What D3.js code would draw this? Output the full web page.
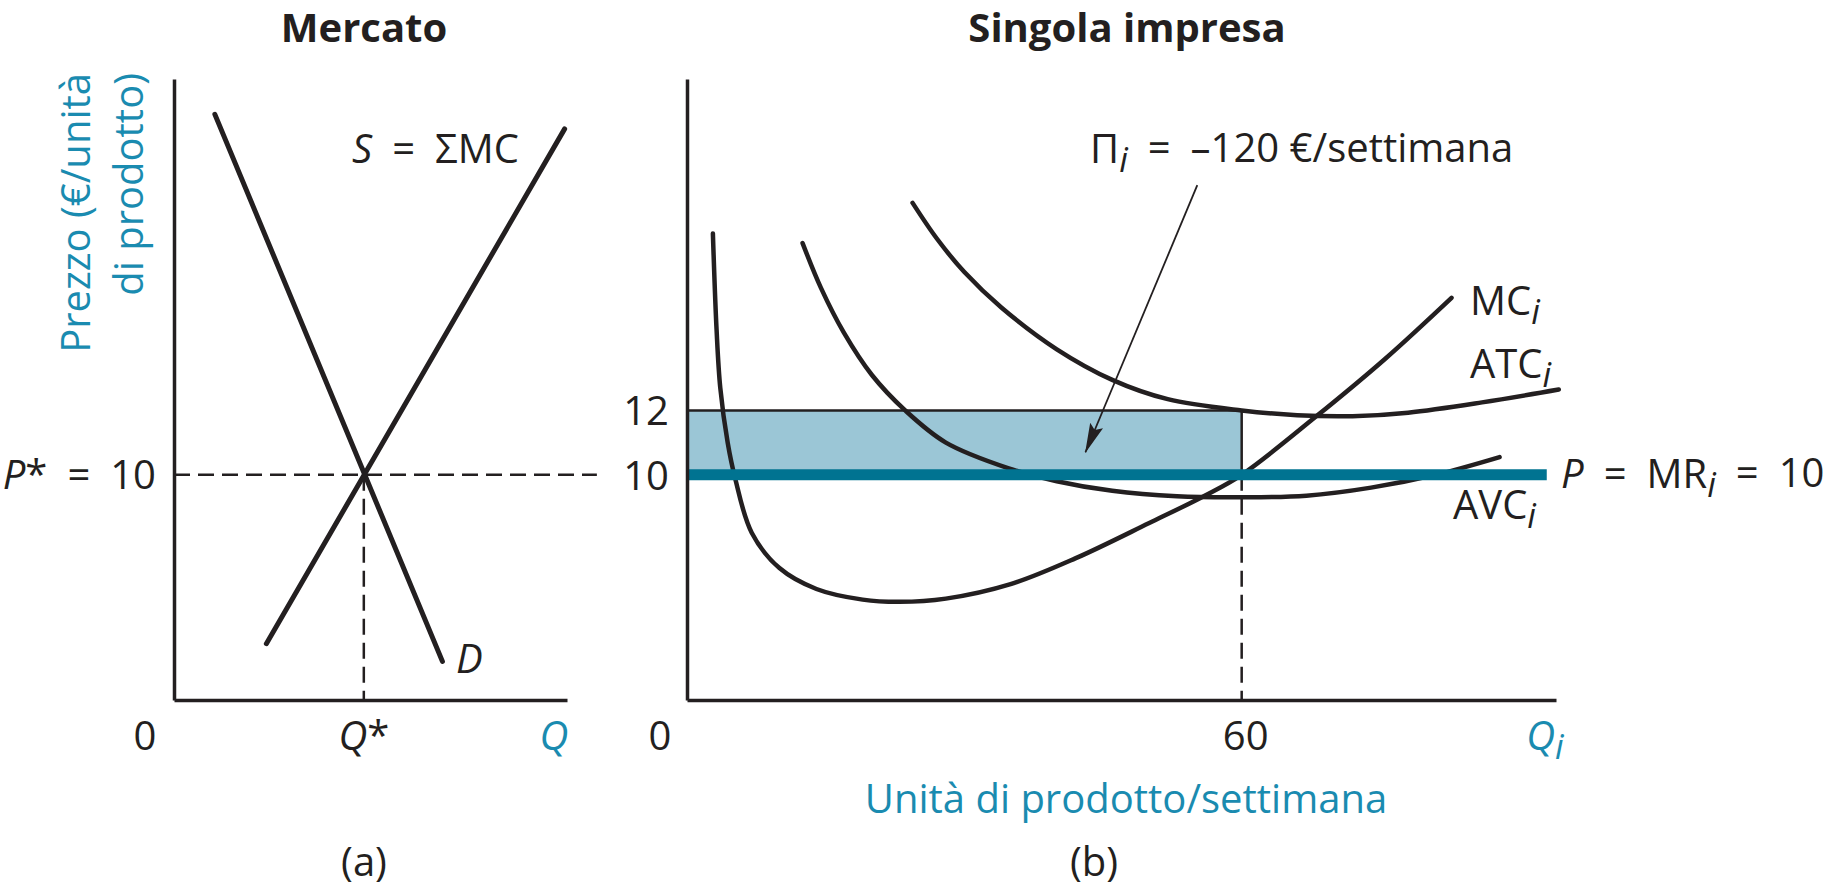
<!DOCTYPE html>
<html>
<head>
<meta charset="utf-8">
<script src="https://cdn.jsdelivr.net/npm/d3@7"></script>
<style>
  body { margin: 0; background: #fff; }
  svg text { font-family: "Open Sans", Lato, sans-serif; fill: #231f20; }
</style>
</head>
<body>
<svg id="chart"></svg>
<script>
// values (price in euro, quantities in arbitrary units)
const priceDomain = [3, 22.3];
const marketQDomain = [0, 100];
const firmQDomain = [0, 94];

// (a) market
const eqPrice = 10;
const eqMarketQ = 48.3;
const demandLine = [[10.4, 21.2], [68.3, 4.2]];
const supplyLine = [[23.5, 4.75], [99.4, 20.75]];
const marketGuideEnd = 107.6;

// (b) single firm
const firmQ = 60;
const firmATC = 12;
const firmPriceTicks = [10, 12];
const mcCurve = [
  [2.8, 17.5], [3.2, 14.5], [3.6, 12.7], [4.4, 11.0], [5.2, 9.9], [7.0, 8.2],
  [10, 7.1], [14, 6.45], [19, 6.12], [23, 6.05], [28, 6.15], [35, 6.6],
  [42, 7.4], [50, 8.5], [56, 9.35], [60, 10], [68, 11.8], [75.5, 13.6], [82.7, 15.5]
];
const atcCurve = [
  [24.4, 18.45], [27, 17.35], [30, 16.3], [34, 15.2], [40, 13.9], [46, 12.95],
  [52, 12.35], [60, 12.0], [66, 11.85], [72, 11.82], [78, 11.93], [86, 12.25], [94.3, 12.65]
];
const avcCurve = [
  [12.5, 17.2], [14.5, 15.8], [17, 14.4], [20, 13.1], [23.6, 12.0], [28, 11.0],
  [34.8, 10.2], [40, 9.8], [46, 9.5], [53, 9.33], [60, 9.3], [67, 9.35],
  [74, 9.6], [81, 10.0], [87.9, 10.55]
];
const mrEnd = 93;
const lossArrow = [[55.2, 19.0], [43.1, 10.7]];

const teal = '#1a8bb0';
const mrColor = '#007391';
const lossFill = '#9bc6d6';
const ink = '#231f20';
const fs = 40;
const eq = '\u2002=\u2002'; // the book sets "=" with wide spaces

const svg = d3.select('#chart')
    .attr('width', 1841)
    .attr('height', 890);

const yPrice = d3.scaleLinear().domain(priceDomain).range([700, 79]);
const xMarket = d3.scaleLinear().domain(marketQDomain).range([174, 567]);
const xFirm = d3.scaleLinear().domain(firmQDomain).range([687, 1556]);

// writes a label made of parts: [text, 'it' | 'sub' | '']
function label(g, x, y, parts, opts = {}) {
    const t = g.append('text')
        .attr('x', x)
        .attr('y', y)
        .attr('text-anchor', opts.anchor || 'start')
        .style('font-size', (opts.size || fs) + 'px');
    if (opts.weight) t.style('font-weight', opts.weight);
    let lowered = false;
    parts.forEach(([txt, kind]) => {
        const s = t.append('tspan').text(txt);
        if (kind === 'it' || kind === 'sub') s.style('font-style', 'italic');
        if (kind === 'sub' && !lowered) { s.attr('dy', '0.25em').style('font-size', '0.85em'); lowered = true; }
        else if (kind !== 'sub' && lowered) { s.attr('dy', '-0.25em'); lowered = false; }
    });
    if (opts.color) t.style('fill', opts.color).selectAll('tspan').style('fill', opts.color);
    return t;
}

svg.append('defs').append('marker')
    .attr('id', 'head')
    .attr('markerUnits', 'userSpaceOnUse')
    .attr('viewBox', '0 0 30 14')
    .attr('refX', 29)
    .attr('refY', 7)
    .attr('markerWidth', 30)
    .attr('markerHeight', 14)
    .attr('orient', 'auto')
    .append('path')
    .attr('d', 'M0,0 L30,7 L0,14 L5,7 Z')
    .attr('fill', ink);

// ---------- (a) Mercato ----------
const left = svg.append('g');

label(left, 364, 42, [['Mercato', '']], {anchor: 'middle', size: 40, weight: 700});

// guides at the equilibrium
left.append('line')
    .attr('x1', xMarket(0)).attr('x2', xMarket(marketGuideEnd))
    .attr('y1', yPrice(eqPrice)).attr('y2', yPrice(eqPrice))
    .attr('stroke', ink).attr('stroke-width', 2.5).attr('stroke-dasharray', '16,8');
left.append('line')
    .attr('x1', xMarket(eqMarketQ)).attr('x2', xMarket(eqMarketQ))
    .attr('y1', yPrice(eqPrice)).attr('y2', yPrice(priceDomain[0]))
    .attr('stroke', ink).attr('stroke-width', 2.5).attr('stroke-dasharray', '16,8');

const marketLine = d3.line().x(d => xMarket(d[0])).y(d => yPrice(d[1]));
[demandLine, supplyLine].forEach(pts => {
    left.append('path')
        .attr('d', marketLine(pts))
        .attr('fill', 'none')
        .attr('stroke', ink)
        .attr('stroke-width', 5)
        .attr('stroke-linecap', 'round');
});

left.append('g')
    .attr('transform', `translate(0,${yPrice(priceDomain[0])})`)
    .call(d3.axisBottom(xMarket).tickValues([]).tickSizeOuter(0));
left.append('g')
    .attr('transform', `translate(${xMarket(0)},0)`)
    .call(d3.axisLeft(yPrice).tickValues([]).tickSizeOuter(0));

label(left, 352, 163, [['S', 'it'], [eq + 'ΣMC', '']]);
label(left, 456, 673, [['D', 'it']]);
label(left, 156, 489, [['P', 'it'], ['*' + eq + '10', '']], {anchor: 'end'});
label(left, 145, 750, [['0', '']], {anchor: 'middle'});
label(left, xMarket(eqMarketQ), 750, [['Q', 'it'], ['*', '']], {anchor: 'middle'});
label(left, 554, 750, [['Q', 'it']], {anchor: 'middle', color: teal});
label(left, 364, 876, [['(a)', '']], {anchor: 'middle'});

// y label, rotated
[['Prezzo (€/unità', 90], ['di prodotto)', 143]].forEach(([txt, bx]) => {
    left.append('text')
        .attr('transform', `translate(${bx},73) rotate(-90)`)
        .attr('text-anchor', 'end')
        .style('font-size', fs + 'px')
        .style('fill', teal)
        .text(txt);
});

// ---------- (b) Singola impresa ----------
const right = svg.append('g');

label(right, 1127, 42, [['Singola impresa', '']], {anchor: 'middle', size: 40, weight: 700});

// loss rectangle between ATC and price at Q = 60
right.append('rect')
    .attr('x', xFirm(0))
    .attr('y', yPrice(firmATC))
    .attr('width', xFirm(firmQ) - xFirm(0))
    .attr('height', yPrice(eqPrice) - yPrice(firmATC))
    .attr('fill', lossFill);

right.append('line')
    .attr('x1', xFirm(firmQ)).attr('x2', xFirm(firmQ))
    .attr('y1', yPrice(eqPrice)).attr('y2', yPrice(priceDomain[0]))
    .attr('stroke', ink).attr('stroke-width', 2.5).attr('stroke-dasharray', '16,8');

const costLine = d3.line()
    .x(d => xFirm(d[0]))
    .y(d => yPrice(d[1]))
    .curve(d3.curveCatmullRom.alpha(0.5));
[mcCurve, atcCurve, avcCurve].forEach(pts => {
    right.append('path')
        .attr('d', costLine(pts))
        .attr('fill', 'none')
        .attr('stroke', ink)
        .attr('stroke-width', 4.5)
        .attr('stroke-linecap', 'round');
});

right.append('path')
    .attr('d', `M${xFirm(0)},${yPrice(firmATC)} H${xFirm(firmQ)} V${yPrice(eqPrice)}`)
    .attr('fill', 'none')
    .attr('stroke', ink)
    .attr('stroke-width', 2.5);

// price = marginal revenue
right.append('line')
    .attr('x1', xFirm(0)).attr('x2', xFirm(mrEnd))
    .attr('y1', yPrice(eqPrice)).attr('y2', yPrice(eqPrice))
    .attr('stroke', mrColor)
    .attr('stroke-width', 11);

right.append('line')
    .attr('x1', xFirm(lossArrow[0][0])).attr('y1', yPrice(lossArrow[0][1]))
    .attr('x2', xFirm(lossArrow[1][0])).attr('y2', yPrice(lossArrow[1][1]))
    .attr('stroke', ink)
    .attr('stroke-width', 1.8)
    .attr('marker-end', 'url(#head)');

right.append('g')
    .attr('transform', `translate(0,${yPrice(priceDomain[0])})`)
    .call(d3.axisBottom(xFirm).tickValues([]).tickSizeOuter(0));
right.append('g')
    .attr('transform', `translate(${xFirm(0)},0)`)
    .call(d3.axisLeft(yPrice).tickValues(firmPriceTicks).tickSize(0).tickPadding(18).tickSizeOuter(0))
    .call(g => g.selectAll('text')
        .style('font-size', fs + 'px')
        .style('font-family', '"Open Sans", sans-serif')
        .style('fill', ink)
        .attr('dy', '0.36em'));

svg.selectAll('.domain').attr('stroke', ink).attr('stroke-width', 3.5);

label(right, 1090, 163, [['Π', ''], ['i', 'sub'], [eq + '–120 €/settimana', '']]);
label(right, 1470, 315, [['MC', ''], ['i', 'sub']]);
label(right, 1470, 378, [['ATC', ''], ['i', 'sub']]);
label(right, 1453, 519, [['AVC', ''], ['i', 'sub']]);
label(right, 1561, 488, [['P', 'it'], [eq + 'MR', ''], ['i', 'sub'], [eq + '10', '']]);

label(right, 660, 750, [['0', '']], {anchor: 'middle'});
label(right, xFirm(firmQ) + 4, 750, [['60', '']], {anchor: 'middle'});
label(right, 1545, 750, [['Q', 'it'], ['i', 'sub']], {anchor: 'middle', color: teal});
label(right, 1126, 813, [['Unità di prodotto/settimana', '']], {anchor: 'middle', color: teal});
label(right, 1094, 876, [['(b)', '']], {anchor: 'middle'});
</script>
</body>
</html>
